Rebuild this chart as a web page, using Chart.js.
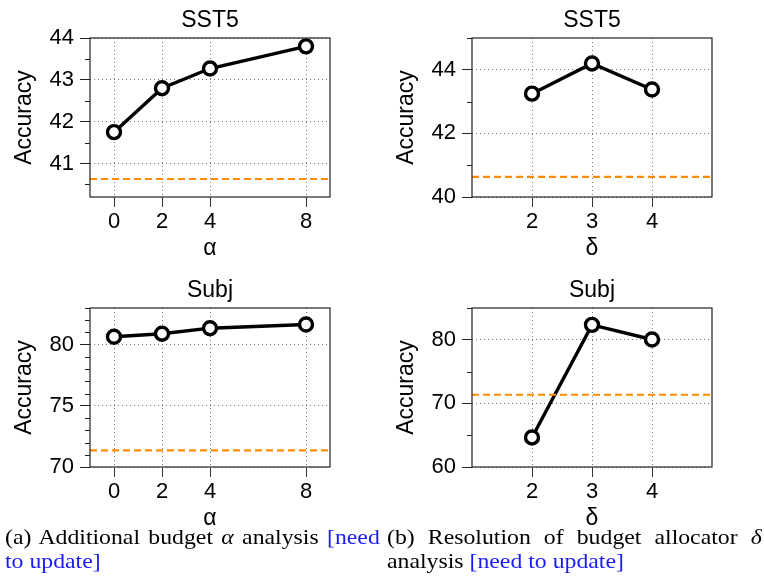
<!DOCTYPE html>
<html>
<head>
<meta charset="utf-8">
<script src="https://cdn.jsdelivr.net/npm/chart.js@4"></script>
<style>
  body { margin: 0; background: #fff; width: 764px; height: 576px; position: relative; overflow: hidden; }
  canvas { position: absolute; }
  .caption { position: absolute; top: 525px; width: 347px; font-family: "Liberation Serif", "Times New Roman", serif; font-size: 22px; line-height: 24px; color: #000; transform: scaleX(1.08); transform-origin: 0 0; }
  .caption .l1 { text-align: justify; text-align-last: justify; white-space: nowrap; }
  .blue { color: #1a1aff; }
</style>
</head>
<body>
<canvas id="g1" width="382" height="262" style="left:0;top:0"></canvas>
<canvas id="g2" width="382" height="262" style="left:382px;top:0"></canvas>
<canvas id="g3" width="382" height="262" style="left:0;top:270px"></canvas>
<canvas id="g4" width="382" height="262" style="left:382px;top:270px"></canvas>

<div class="caption" style="left:5px">
  <div class="l1">(a) Additional budget <i>α</i> analysis <span class="blue">[need</span></div>
  <div><span class="blue">to update]</span></div>
</div>
<div class="caption" style="left:387px">
  <div class="l1">(b) Resolution of budget allocator <i>δ</i></div>
  <div>analysis <span class="blue">[need to update]</span></div>
</div>

<script>
// valores de x
var alphaVals = [0, 2, 4, 8];
var deltaVals = [2, 3, 4];

// acuracia
var sst5Alpha = [41.75, 42.8, 43.27, 43.8];
var sst5Delta = [43.25, 44.2, 43.38];
var subjAlpha = [80.65, 80.9, 81.35, 81.65];
var subjDelta = [64.65, 82.35, 80.05];

// linha tracejada (baseline)
var sst5Base = 40.63;
var subjBase = 71.36;

// ticks
var ticksY1 = [41, 42, 43, 44];
var ticksY2 = [40, 42, 44];
var ticksY3 = [70, 75, 80];
var ticksY4 = [60, 70, 80];
var minorY1 = [40.5, 41.5, 42.5, 43.5];
var minorY2 = [41, 43, 45];
var minorY3 = [71, 72, 73, 74, 76, 77, 78, 79, 81, 82, 83];
var minorY4 = [65, 75, 85];

var fonte = "'Liberation Sans', Arial, Helvetica, sans-serif";

var molduraPlugin = {
	id: "moldura",
	afterDraw: function (chart) {
		var ctx = chart.ctx;
		var a = chart.chartArea;
		var minors = chart.options.plugins.moldura.minor || [];
		var y = chart.scales.y;
		ctx.save();
		ctx.strokeStyle = "#222";
		ctx.lineWidth = 1.2;
		ctx.strokeRect(a.left, a.top, a.right - a.left, a.bottom - a.top);
		ctx.lineWidth = 1;
		for (var i = 0; i < minors.length; i++) {
			var py = Math.round(y.getPixelForValue(minors[i])) + 0.5;
			ctx.beginPath();
			ctx.moveTo(a.left - 5, py);
			ctx.lineTo(a.left, py);
			ctx.stroke();
		}
		ctx.restore();
	},
};

function plotarPainel(locate, titulo, xs, ys, base, xMin, xMax, yMin, yMax, ticksY, minorY, xLabel) {
	var pontos = [];
	for (var i = 0; i < xs.length; i++) {
		pontos.push({ x: xs[i], y: ys[i] });
	}
	new Chart(locate, {
		type: "line",
		data: {
			datasets: [
				{
					data: [{ x: xMin, y: base }, { x: xMax, y: base }],
					borderColor: "#ff8c00",
					borderWidth: 2.2,
					borderDash: [7, 4],
					pointRadius: 0,
				},
				{
					data: pontos,
					borderColor: "#000",
					borderWidth: 3.4,
					pointRadius: 6.5,
					pointBorderWidth: 3.4,
					pointBackgroundColor: "#fff",
					pointBorderColor: "#000",
					clip: false,
				},
			],
		},
		options: {
			responsive: false,
			animation: false,
			layout: { padding: { left: 0, right: 52, top: 0, bottom: 0 } },
			scales: {
				x: {
					type: "linear",
					min: xMin,
					max: xMax,
					afterBuildTicks: function (s) {
						s.ticks = xs.map(function (v) { return { value: v }; });
					},
					afterFit: function (s) { s.height = 65; },
					grid: { color: "#777", tickColor: "#333", tickLength: 10, tickBorderDash: [] },
					border: { display: false, dash: [1, 3] },
					ticks: { color: "#000", padding: 2, font: { family: fonte, size: 22 } },
					title: { display: true, text: xLabel, color: "#000", padding: { top: 7, bottom: 0 }, font: { family: fonte, size: 23 } },
				},
				y: {
					min: yMin,
					max: yMax,
					afterBuildTicks: function (s) {
						s.ticks = ticksY.map(function (v) { return { value: v }; });
					},
					afterFit: function (s) { s.width = 90; },
					grid: { color: "#777", tickColor: "#222", tickLength: 10, tickBorderDash: [] },
					border: { display: false, dash: [1, 3] },
					ticks: { color: "#000", padding: 6, font: { family: fonte, size: 22 } },
					title: { display: true, text: "Accuracy", color: "#000", padding: { top: 11, bottom: 0 }, font: { family: fonte, size: 23 } },
				},
			},
			plugins: {
				legend: { display: false },
				tooltip: { enabled: false },
				title: { display: true, fullSize: false, text: titulo, color: "#000", padding: { top: 7, bottom: 3.4 }, font: { family: fonte, size: 23, weight: "normal" } },
				moldura: { minor: minorY },
			},
		},
		plugins: [molduraPlugin],
	});
}

plotarPainel(document.getElementById("g1"), "SST5", alphaVals, sst5Alpha, sst5Base, -1, 9, 40.2, 44, ticksY1, minorY1, "α");
plotarPainel(document.getElementById("g2"), "SST5", deltaVals, sst5Delta, sst5Base, 1, 5, 40, 45, ticksY2, minorY2, "δ");
plotarPainel(document.getElementById("g3"), "Subj", alphaVals, subjAlpha, subjBase, -1, 9, 70, 83, ticksY3, minorY3, "α");
plotarPainel(document.getElementById("g4"), "Subj", deltaVals, subjDelta, subjBase, 1, 5, 60, 85, ticksY4, minorY4, "δ");
</script>
</body>
</html>
